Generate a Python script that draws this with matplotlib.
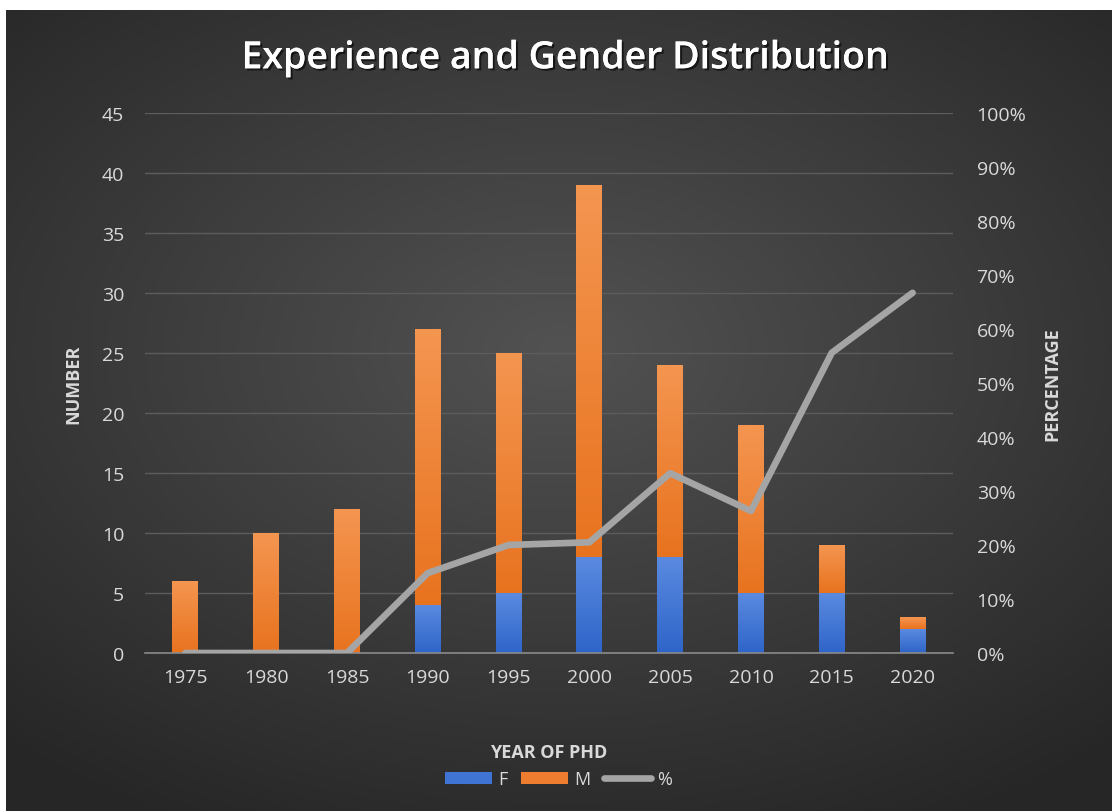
import numpy as np
import matplotlib
matplotlib.use("Agg")
import matplotlib.pyplot as plt
from matplotlib.ticker import PercentFormatter
import matplotlib.patheffects as pe

# data
years = ["1975", "1980", "1985", "1990", "1995", "2000", "2005", "2010", "2015", "2020"]
female = [0, 0, 0, 4, 5, 8, 8, 5, 5, 2]
male = [6, 10, 12, 23, 20, 31, 16, 14, 4, 1]
pct_female = [0, 0, 0, 0.148, 0.20, 0.205, 0.333, 0.263, 0.556, 0.667]

plt.rcParams['font.family'] = ['Open Sans', 'DejaVu Sans']
txt = "#d9d9d9"

fig = plt.figure(figsize=(11.17, 8.12), dpi=100)
fig.patch.set_facecolor("white")

# radial gradient background (frame of the chart)
bg = fig.add_axes([0.005, 0, 0.99, 0.987])
yy, xx = np.mgrid[-1:1:300j, -1:1:400j]
r = np.sqrt((xx * 0.9) ** 2 + ((yy + 0.15) * 1.0) ** 2)
bg.imshow(r, cmap=matplotlib.colors.LinearSegmentedColormap.from_list("g", ["#525252", "#3c3c3c", "#262626"]),
          vmin=0, vmax=1.35, aspect="auto", extent=[0, 1, 0, 1])
bg.set_axis_off()

ax = fig.add_axes([145 / 1117, 1 - 654 / 812, (953 - 145) / 1117, (654 - 114) / 812])
ax.patch.set_alpha(0)
x = np.arange(len(years))
w = 0.32

def gradient_bars(bars, c_top, c_bot):
    cm = matplotlib.colors.LinearSegmentedColormap.from_list("b", [c_bot, c_top])
    for b in bars:
        if b.get_height() <= 0:
            continue
        x0, y0 = b.get_x(), b.get_y()
        im = ax.imshow(np.linspace(0, 1, 100).reshape(-1, 1), cmap=cm, origin="lower", aspect="auto",
                       extent=[x0, x0 + b.get_width(), y0, y0 + b.get_height()], zorder=2)
        im.set_clip_path(b)

bf = ax.bar(x, female, w, color="#3f74d4", zorder=2, label="F")
bm = ax.bar(x, male, w, bottom=female, color="#ee7d2f", zorder=2, label="M")
gradient_bars(bf, "#5a8ae0", "#2f65c9")
gradient_bars(bm, "#f49550", "#e8731f")

ax.set_xlim(-0.5, len(years) - 0.5)
ax.set_ylim(0, 45)
ax.set_yticks(range(0, 46, 5))
ax.set_xticks(x)
ax.set_xticklabels(years)
ax.grid(axis="y", color="#5c5c5c", lw=1, zorder=0)
for s in ["top", "right", "left"]:
    ax.spines[s].set_visible(False)
ax.spines["bottom"].set_color("#8a8a8a")
ax.spines["bottom"].set_linewidth(1.2)
ax.tick_params(axis="y", length=0, colors=txt, labelsize=14, pad=15)
ax.tick_params(axis="x", length=0, colors=txt, labelsize=14, pad=11)
ax.set_ylabel("NUMBER", color=txt, fontsize=13, fontweight="bold", labelpad=14)
ax.set_xlabel("YEAR OF PHD", color=txt, fontsize=13, fontweight="bold", labelpad=41)

ax2 = ax.twinx()
ln, = ax2.plot(x, pct_female, color="#a5a5a5", lw=4.8, zorder=3, label="%", solid_capstyle="round")
ax2.set_ylim(0, 1)
ax2.set_yticks(np.arange(0, 1.01, 0.1))
ax2.yaxis.set_major_formatter(PercentFormatter(1.0, decimals=0))
for s in ax2.spines.values():
    s.set_visible(False)
ax2.tick_params(length=0, colors=txt, labelsize=14, pad=17)
ax2.set_ylabel("PERCENTAGE", color=txt, fontsize=13, fontweight="bold", labelpad=12)

fig.text(0.506, 0.927, "Experience and Gender Distribution", ha="center", va="center",
         color="white", fontsize=27, fontweight="semibold",
         path_effects=[pe.withSimplePatchShadow(offset=(1.5, -1.5), shadow_rgbFace="black", alpha=0.6), pe.Normal()])

leg = fig.legend(handles=[bf, bm, ln], labels=["F", "M", "%"], loc="center", bbox_to_anchor=(0.5, 0.039),
                 ncol=3, frameon=False, fontsize=13, labelcolor=txt, handlelength=2.6, handleheight=0.6,
                 columnspacing=0.8, handletextpad=0.3)

fig.savefig("out.png", dpi=100, facecolor=fig.get_facecolor())
